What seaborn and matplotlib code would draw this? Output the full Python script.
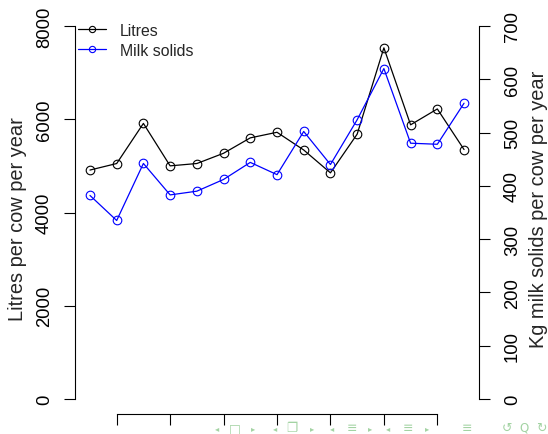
import numpy as np
import pandas as pd
import matplotlib
matplotlib.use("Agg")
import matplotlib.pyplot as plt
from matplotlib.lines import Line2D
import seaborn as sns

# Annual herd production, one value per season
season = list(range(1, 16))
litres = [4910, 5050, 5910, 5000, 5050, 5270, 5600, 5720, 5340, 4850,
          5680, 7530, 5880, 6220, 5350]
milk_solids = [382, 335, 442, 383, 390, 412, 444, 421, 502, 440,
               524, 620, 480, 478, 555]
litre_ticks = [0, 2000, 4000, 6000, 8000]
solids_ticks = [0, 100, 200, 300, 400, 500, 600, 700]
season_ticks = [2, 4, 6, 8, 10, 12, 14]

df = pd.DataFrame({"season": season, "litres": litres, "solids": milk_solids})

sns.set_style("white")
plt.rcParams["font.family"] = ["Liberation Sans", "DejaVu Sans"]

W, H = 548, 435
fig = plt.figure(figsize=(W / 100, H / 100), dpi=100)
x0, x1, y0, y1 = 75, 479, 12, 415
ax = fig.add_axes([x0 / W, 1 - y1 / H, (x1 - x0) / W, (y1 - y0) / H])
ax2 = ax.twinx()

lw, ms, mew = 0.9, 6.2, 0.8
sns.lineplot(data=df, x="season", y="litres", ax=ax, color="black",
             marker="o", markersize=ms, markerfacecolor="none",
             markeredgecolor="black", markeredgewidth=mew, linewidth=lw)
sns.lineplot(data=df, x="season", y="solids", ax=ax2, color="#0000ff",
             marker="o", markersize=ms, markerfacecolor="none",
             markeredgecolor="#0000ff", markeredgewidth=mew, linewidth=lw)

# R-style 4% padding on both scales
ax.set_xlim(1 - 0.04 * 14, 15 + 0.04 * 14)
ax.set_ylim(-0.04 * 8000, 8000 * 1.04)
ax2.set_ylim(-0.04 * 700, 700 * 1.04)

ax.set_xticks(season_ticks)
ax.set_xticklabels([])
ax.set_yticks(litre_ticks)
ax.set_yticklabels([str(v) for v in litre_ticks], rotation=90, va="center")
ax2.set_yticks(solids_ticks)
ax2.set_yticklabels([str(v) for v in solids_ticks], rotation=90, va="center")

tick_kw = dict(length=8, width=0.8, color="black", labelsize=13.3,
               labelcolor="black")
ax.tick_params(axis="x", direction="out", bottom=True, **tick_kw)
ax.tick_params(axis="y", direction="out", left=True, pad=8, **tick_kw)
ax2.tick_params(axis="y", direction="out", right=True, pad=10, **tick_kw)

for a in (ax, ax2):
    for s in a.spines.values():
        s.set_visible(False)
        s.set_linewidth(0.8)
        s.set_color("black")
ax.spines["left"].set_visible(True)
ax.spines["left"].set_bounds(0, 8000)
ax.spines["bottom"].set_visible(True)
ax.spines["bottom"].set_bounds(season_ticks[0], season_ticks[-1])
ax2.spines["right"].set_visible(True)
ax2.spines["right"].set_bounds(0, 700)

ax.set_xlabel("")
ax.set_ylabel("")
ax2.set_ylabel("")
lab_fs = 14.4
fig.text(18 / W, 1 - 219 / H, "Litres per cow per year", rotation=90,
         ha="center", va="center", fontsize=lab_fs)
fig.text(538 / W, 1 - 209 / H, "Kg milk solids per cow per year", rotation=90,
         ha="center", va="center", fontsize=lab_fs)

handles = [
    Line2D([], [], color="black", marker="o", markersize=4.5,
           markerfacecolor="none", markeredgewidth=mew, linewidth=lw),
    Line2D([], [], color="#0000ff", marker="o", markersize=4.5,
           markerfacecolor="none", markeredgewidth=mew, linewidth=lw),
]
ax2.legend(handles, ["Litres", "Milk solids"], loc="upper left",
           bbox_to_anchor=(78 / W, 1 - 24 / H), bbox_transform=fig.transFigure,
           frameon=False, borderpad=0, borderaxespad=0, fontsize=11.4,
           handlelength=1.75, handletextpad=0.9, labelspacing=0.3)

# slide navigation bar
nav = "#a3d3a3"
nav_items = [(216.7, "◂", 6), (235, "□", 9), (253, "▸", 6),
             (275, "◂", 6), (291.7, "❐", 9), (311.7, "▸", 6),
             (331.7, "◂", 6), (351.7, "≡", 9), (370, "▸", 6),
             (388, "◂", 6), (408, "≡", 9), (426.7, "▸", 6),
             (466.7, "≡", 9), (506.7, "↺", 9), (524, "Q", 8.5),
             (541.7, "↻", 9)]
for px, ch, fs in nav_items:
    fig.text(px / W, 1 - 428.5 / H, ch, ha="center", va="center",
             fontsize=fs, color=nav, family=["DejaVu Sans"])

fig.savefig("out.png", dpi=100)
